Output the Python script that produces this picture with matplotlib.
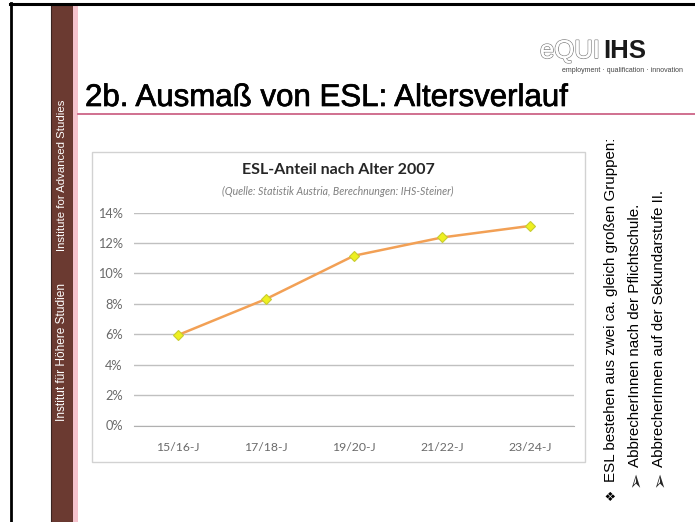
import matplotlib.pyplot as plt
from matplotlib.patches import Rectangle
from matplotlib.lines import Line2D
import matplotlib.patheffects as pe

# data
age_groups = ["15/16-J", "17/18-J", "19/20-J", "21/22-J", "23/24-J"]
esl_share = [5.95, 8.32, 11.17, 12.37, 13.13]
y_ticks = [0, 2, 4, 6, 8, 10, 12, 14]

slide_title = "2b. Ausmaß von ESL: Altersverlauf"
chart_title = "ESL-Anteil nach Alter 2007"
chart_source = "(Quelle: Statistik Austria, Berechnungen: IHS-Steiner)"
bullet_marks = ["\u2756", "\u27a2", "\u27a2"]
bullet_lines = [
    "ESL bestehen aus zwei ca. gleich großen Gruppen:",
    "AbbrecherInnen nach der Pflichtschule.",
    "AbbrecherInnen auf der Sekundarstufe II.",
]

W, H = 695, 522


def fx(x):
    return x / W


def fy(y):
    return 1 - y / H


fig = plt.figure(figsize=(W / 100, H / 100), dpi=100)
fig.patch.set_facecolor("white")

# ------------------------------
# slide frame and sidebar
# ------------------------------
fig.add_artist(Line2D([fx(11), fx(11)], [fy(3), fy(522)], color="black", lw=2))
fig.add_artist(Line2D([fx(10), fx(695)], [fy(4), fy(4)], color="black", lw=2.2))
fig.add_artist(Rectangle((fx(51), fy(522)), (73 - 51) / W, (522 - 5) / H,
                         transform=fig.transFigure, facecolor="#6B3A31",
                         edgecolor="#3A2420", lw=0.8))
fig.add_artist(Rectangle((fx(73), fy(522)), 5 / W, (522 - 5) / H,
                         transform=fig.transFigure, facecolor="#F5C3CD", lw=0))
fig.text(fx(62), fy(175), "Institute for Advanced Studies", rotation=90,
         color="white", fontsize=8.2, family="Liberation Sans", ha="center", va="center")
fig.text(fx(62), fy(352), "Institut für Höhere Studien", rotation=90,
         color="white", fontsize=8.6, family="Liberation Sans", ha="center", va="center")

# title and rule
fig.text(fx(85), fy(106), slide_title, fontsize=22.5, family="Liberation Sans",
         color="black", ha="left", va="baseline",
         path_effects=[pe.withStroke(linewidth=0.5, foreground="black")])
fig.add_artist(Line2D([fx(78), fx(695)], [fy(114), fy(114)], color="#D0708F", lw=1.4))

# logo
fig.text(fx(540), fy(58), "eQUI", fontsize=18.5, family="Liberation Sans", color="white",
         ha="left", va="baseline",
         path_effects=[pe.withStroke(linewidth=1.2, foreground="#8A8A8A"), pe.Normal()])
fig.text(fx(603), fy(58), "IHS", fontsize=18.5, family="Liberation Sans", weight="bold",
         color="#1A1A1A", ha="left", va="baseline")
fig.text(fx(623), fy(70), "employment · qualification · innovation", fontsize=5,
         family="Liberation Sans", color="#444444", ha="center", va="center")

# right hand bullet text
for i, line in enumerate(bullet_lines):
    xpos = 611 + i * 24
    if i == 0:
        fig.text(fx(xpos), fy(494), bullet_marks[i], rotation=90, fontsize=9,
                 family="DejaVu Sans", color="black", ha="center", va="center")
        ybot = 482
    else:
        fig.text(fx(xpos), fy(479), bullet_marks[i], rotation=90, fontsize=14,
                 family="DejaVu Sans", color="#222222", ha="center", va="center")
        ybot = 467
    fig.text(fx(xpos), fy(ybot), line, rotation=90, fontsize=10.9,
             family="Liberation Sans", color="black", ha="center", va="bottom")

# ------------------------------
# chart
# ------------------------------
fig.add_artist(Rectangle((fx(92), fy(462)), (585 - 92) / W, (462 - 152) / H,
                         transform=fig.transFigure, facecolor="white",
                         edgecolor="#D2D2D2", lw=1, zorder=0))
fig.text(fx(338), fy(170), chart_title, fontsize=11.5, family="Lato", weight="bold",
         color="#262626", ha="center", va="center")
fig.text(fx(338), fy(191), chart_source, fontsize=7.6, family="Lato", style="italic",
         color="#7F7F7F", ha="center", va="center")

ax = fig.add_axes([fx(134), fy(425.5), (574 - 134) / W, (425.5 - 212.7) / H])
ax.set_facecolor("none")
xs = list(range(len(age_groups)))
ax.plot(xs, esl_share, color="#F2A055", lw=1.8, marker="D", markersize=5,
        markerfacecolor="#EEF020", markeredgecolor="#C8CC30", markeredgewidth=0.8,
        zorder=3)
ax.set_xlim(-0.5, len(age_groups) - 0.5)
ax.set_ylim(0, 14)
ax.set_yticks(y_ticks)
ax.set_yticklabels([f"{v}%" for v in y_ticks])
ax.set_xticks(xs)
ax.set_xticklabels(age_groups)
ax.yaxis.grid(True, color="#C0C0C0", lw=1)
ax.set_axisbelow(True)
for s in ["top", "right", "left"]:
    ax.spines[s].set_visible(False)
ax.spines["bottom"].set_color("#B0B0B0")
ax.tick_params(axis="both", length=0, labelcolor="#6A6A6A")
ax.tick_params(axis="y", pad=8, labelsize=9.2)
ax.tick_params(axis="x", pad=12, labelsize=8.8)
for lbl in ax.get_xticklabels() + ax.get_yticklabels():
    lbl.set_family("Lato")

fig.savefig("out.png", dpi=100)
